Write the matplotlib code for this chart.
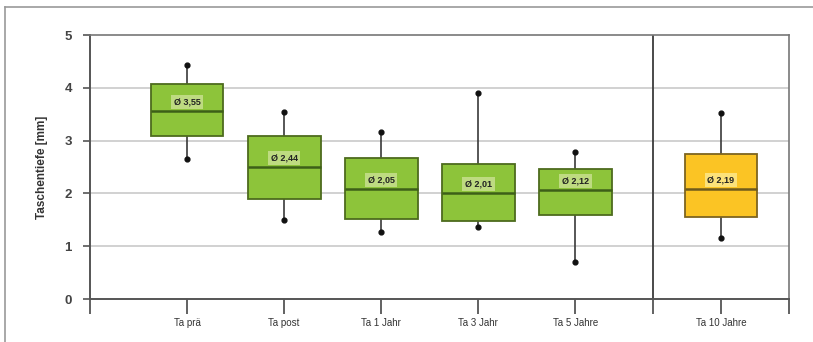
import numpy as np
import matplotlib.pyplot as plt
from matplotlib.lines import Line2D

plt.rcParams['font.family'] = ['Liberation Sans', 'DejaVu Sans']

# --------------------------------------------------------------------------------------------
# DATA
labels = ['Ta prä', 'Ta post', 'Ta 1 Jahr', 'Ta 3 Jahr', 'Ta 5 Jahre', 'Ta 10 Jahre']
positions = [1, 2, 3, 4, 5, 6.5]
whisLow = [2.65, 1.50, 1.27, 1.36, 0.70, 1.16]
q1 = [3.09, 1.89, 1.51, 1.47, 1.59, 1.55]
median = [3.56, 2.50, 2.08, 2.01, 2.06, 2.08]
q3 = [4.07, 3.09, 2.67, 2.56, 2.46, 2.74]
whisHigh = [4.43, 3.54, 3.16, 3.90, 2.78, 3.53]
means = ['Ø 3,55', 'Ø 2,44', 'Ø 2,05', 'Ø 2,01', 'Ø 2,12', 'Ø 2,19']
divider = 5.8
xEnd = 7.2

# --------------------------------------------------------------------------------------------
# STYLE
green = '#8dc43a'
greenEdge = '#4d6b1e'
greenMed = '#3d5f18'
yellow = '#fbc424'
yellowEdge = '#7d6420'
yellowMed = '#6e5a1c'

fig = plt.figure(figsize=(8.13, 3.42), dpi=100)
ax = fig.add_axes([90 / 813, 43 / 342, 699 / 813, 264 / 342])

stats = []
for i in range(len(labels)):
    stats.append({'whislo': whisLow[i], 'q1': q1[i], 'med': median[i],
                  'q3': q3[i], 'whishi': whisHigh[i], 'fliers': []})

bp = ax.bxp(stats, positions=positions, widths=0.75, patch_artist=True,
            showcaps=False, manage_ticks=False,
            boxprops=dict(linewidth=1.3),
            whiskerprops=dict(color='#3a3a3a', linewidth=1.2),
            medianprops=dict(linewidth=1.8))

for i, box in enumerate(bp['boxes']):
    last = i == len(labels) - 1
    box.set_facecolor(yellow if last else green)
    box.set_edgecolor(yellowEdge if last else greenEdge)
    bp['medians'][i].set_color(yellowMed if last else greenMed)
    box.set_zorder(3)
    bp['medians'][i].set_zorder(4)

# whisker end dots
ax.scatter(positions, whisLow, s=12, color='#111111', zorder=5)
ax.scatter(positions, whisHigh, s=12, color='#111111', zorder=5)

# mean labels
for i in range(len(labels)):
    lightBg = '#fde88a' if i == len(labels) - 1 else '#c7e08e'
    ax.text(positions[i], median[i] + 0.17, means[i], ha='center', va='center',
            fontsize=6.5, fontweight='bold', color='#222222', zorder=6,
            bbox=dict(boxstyle='square,pad=0.3', facecolor=lightBg,
                      edgecolor='none', alpha=0.85))

# grid and divider
for y in [1, 2, 3, 4]:
    ax.axhline(y, color='#c9c9c9', linewidth=1.2, zorder=1)
ax.axvline(divider, color='#3c3c3c', linewidth=1.3, zorder=2)

ax.set_xlim(0, xEnd)
ax.set_ylim(0, 5)

ax.set_xticks([0] + positions[:5] + [divider, positions[5], xEnd])
ax.set_xticklabels([''] + labels[:5] + ['', labels[5], ''], fontsize=7, color='#333333')
ax.tick_params(axis='x', length=11, width=1.3, color='#555555', pad=3)
ax.set_yticks(np.arange(0, 6, 1))
ax.set_yticklabels([str(v) for v in range(6)], fontsize=9.5, fontweight='bold', color='#444444')
ax.tick_params(axis='y', length=5, width=1.2, color='#555555', pad=8)

for side in ['left', 'bottom']:
    ax.spines[side].set_color('#555555')
    ax.spines[side].set_linewidth(1.4)
for side in ['top', 'right']:
    ax.spines[side].set_color('#777777')
    ax.spines[side].set_linewidth(1.2)

ax.set_ylabel('Taschentiefe [mm]', fontsize=8.5, fontweight='bold', color='#333333', labelpad=12)

# outer frame lines (top and left)
fig.add_artist(Line2D([5 / 813, 1], [335 / 342, 335 / 342], color='#9a9a9a', linewidth=1.2))
fig.add_artist(Line2D([5 / 813, 5 / 813], [0, 335 / 342], color='#9a9a9a', linewidth=1.2))

fig.savefig('out.png', dpi=100)
